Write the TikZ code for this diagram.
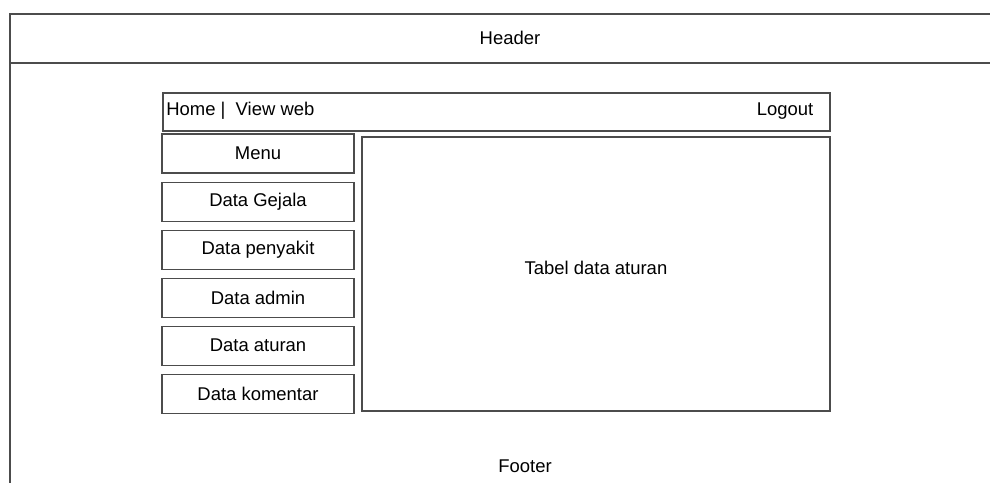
\documentclass[tikz,border=0pt]{standalone}
\usepackage{fontspec}
\setmainfont{Liberation Sans}
\usepackage{tikz}
\usetikzlibrary{positioning}
\tikzset{
  frame/.style={draw=black!70,line width=0.6pt},
  menubox/.style={frame,minimum width=3.84cm,minimum height=0.78cm,
            inner sep=0pt,font=\fontsize{10.5}{12}\selectfont},
  label/.style={inner sep=0pt,font=\fontsize{10.5}{12}\selectfont},
}
\begin{document}
\begin{tikzpicture}[node distance=0.16cm]
  \useasboundingbox (0,0) rectangle (19.8,9.66);
  \draw[frame] (19.8,9.38) -- (0.2,9.38) -- (0.2,0);
  \draw[frame] (0.2,8.4) -- (19.8,8.4);
  \node[label] (header) at (10.2,8.9) {Header};
  \node[frame,minimum width=13.34cm,minimum height=0.76cm,inner sep=0pt] (nav) at (9.93,7.42) {};
  \node[label,anchor=west] (home) at (3.32,7.44) {Home |\ \ View web};
  \node[label] (logout) at (15.7,7.44) {Logout};
  \node[menubox] (menu) at (5.16,6.59) {Menu};
  \node[menubox,below=of menu] (gejala) {Data Gejala};
  \node[menubox,below=of gejala] (penyakit) {Data penyakit};
  \node[menubox,below=of penyakit] (admin) {Data admin};
  \node[menubox,below=of admin] (aturan) {Data aturan};
  \node[menubox,below=of aturan] (komentar) {Data komentar};
  \node[frame,minimum width=9.36cm,minimum height=5.48cm,inner sep=0pt,
        font=\fontsize{10.5}{12}\selectfont] (tabel) at (11.92,4.18) {};
  \node[label] (tabeltext) at (11.92,4.3) {Tabel data aturan};
  \node[label] (footer) at (10.5,0.34) {Footer};
\end{tikzpicture}
\end{document}
